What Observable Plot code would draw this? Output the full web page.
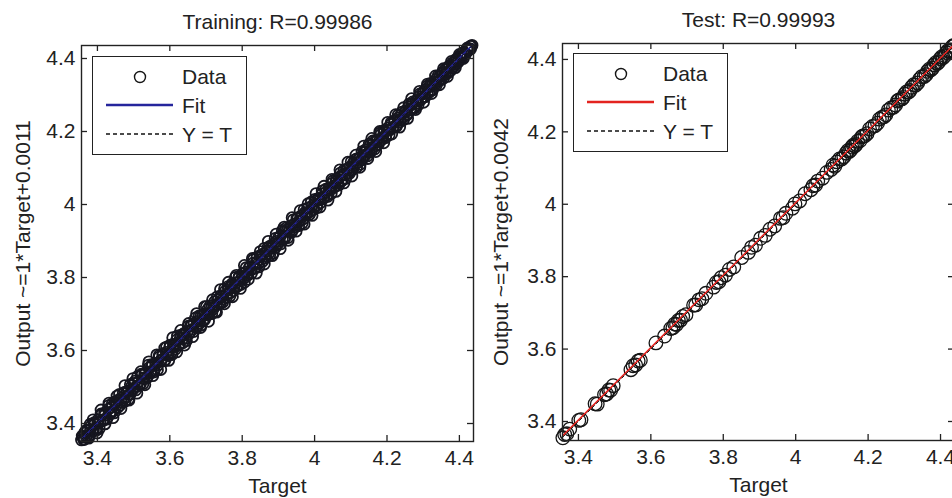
<!DOCTYPE html>
<html><head><meta charset="utf-8">
<script src="https://cdn.jsdelivr.net/npm/d3@7"></script>
<script src="https://cdn.jsdelivr.net/npm/@observablehq/plot@0.6"></script>
<style>
html,body{margin:0;padding:0;background:#fff;overflow:hidden;width:952px;height:498px}
#wrap{position:relative;width:952px;height:498px;overflow:hidden;font-family:'Liberation Sans',Arial,sans-serif;color:#222}
.panel{position:absolute;top:0}
.legend{position:absolute;background:#fff;border:1.4px solid #222;box-sizing:border-box}
.legend svg{display:block}
</style></head><body><div id="wrap"></div>
<script>
const trainTarget = [3.356,3.359,3.362,3.366,3.369,3.373,3.377,3.381,3.384,3.389,3.393,3.398,3.402,3.407,3.411,3.416,3.421,3.425,3.430,3.434,3.439,3.444,3.448,3.453,3.457,3.462,3.467,3.471,3.476,3.481,3.486,3.490,3.495,3.500,3.504,3.509,3.514,3.519,3.523,3.528,3.533,3.538,3.543,3.547,3.552,3.557,3.562,3.566,3.571,3.576,3.581,3.586,3.590,3.595,3.600,3.605,3.610,3.614,3.619,3.624,3.629,3.634,3.638,3.643,3.648,3.653,3.657,3.662,3.667,3.672,3.677,3.681,3.686,3.691,3.696,3.700,3.705,3.710,3.715,3.720,3.724,3.729,3.734,3.739,3.744,3.748,3.753,3.758,3.763,3.767,3.772,3.777,3.782,3.787,3.791,3.796,3.801,3.806,3.810,3.815,3.820,3.825,3.830,3.834,3.839,3.844,3.849,3.853,3.858,3.863,3.868,3.873,3.877,3.882,3.887,3.892,3.896,3.901,3.906,3.911,3.916,3.920,3.925,3.930,3.935,3.939,3.944,3.949,3.954,3.959,3.963,3.968,3.973,3.978,3.982,3.987,3.992,3.997,4.002,4.006,4.011,4.016,4.021,4.025,4.030,4.035,4.040,4.045,4.049,4.054,4.059,4.064,4.068,4.073,4.078,4.083,4.088,4.092,4.097,4.102,4.107,4.111,4.116,4.121,4.126,4.131,4.135,4.140,4.145,4.150,4.154,4.159,4.164,4.169,4.174,4.178,4.183,4.188,4.193,4.197,4.202,4.207,4.212,4.217,4.221,4.226,4.231,4.236,4.240,4.245,4.250,4.255,4.260,4.264,4.269,4.274,4.279,4.283,4.288,4.293,4.298,4.303,4.307,4.312,4.317,4.322,4.326,4.331,4.336,4.341,4.346,4.350,4.355,4.360,4.365,4.369,4.374,4.379,4.384,4.389,4.393,4.398,4.403,4.408,4.412,4.417,4.422,4.427,4.432,4.435];
const trainOutput = [3.355,3.363,3.356,3.375,3.365,3.380,3.368,3.384,3.395,3.382,3.398,3.388,3.410,3.404,3.423,3.408,3.423,3.414,3.439,3.429,3.445,3.435,3.459,3.451,3.464,3.450,3.470,3.465,3.486,3.473,3.490,3.480,3.503,3.496,3.516,3.502,3.515,3.508,3.532,3.525,3.539,3.529,3.553,3.542,3.559,3.547,3.565,3.559,3.582,3.574,3.589,3.574,3.595,3.589,3.609,3.596,3.612,3.609,3.629,3.616,3.635,3.631,3.646,3.633,3.652,3.646,3.668,3.658,3.674,3.663,3.680,3.675,3.695,3.680,3.701,3.698,3.713,3.702,3.717,3.714,3.734,3.725,3.740,3.729,3.748,3.741,3.762,3.755,3.770,3.758,3.783,3.772,3.785,3.776,3.799,3.794,3.811,3.799,3.815,3.806,3.826,3.821,3.839,3.826,3.841,3.838,3.860,3.850,3.865,3.853,3.872,3.866,3.886,3.880,3.893,3.883,3.899,3.895,3.914,3.907,3.926,3.912,3.930,3.927,3.942,3.930,3.946,3.943,3.963,3.955,3.969,3.960,3.977,3.976,3.990,3.980,3.995,3.992,4.009,3.998,4.016,4.013,4.029,4.019,4.032,4.027,4.046,4.041,4.058,4.047,4.062,4.059,4.075,4.064,4.082,4.081,4.096,4.086,4.102,4.094,4.113,4.108,4.125,4.116,4.128,4.123,4.142,4.136,4.150,4.143,4.162,4.156,4.170,4.161,4.177,4.172,4.192,4.184,4.198,4.190,4.209,4.204,4.220,4.211,4.225,4.218,4.237,4.232,4.247,4.239,4.253,4.248,4.268,4.261,4.275,4.266,4.283,4.278,4.295,4.287,4.303,4.296,4.315,4.309,4.323,4.314,4.330,4.326,4.343,4.337,4.351,4.343,4.361,4.357,4.371,4.363,4.378,4.374,4.389,4.385,4.397,4.393,4.407,4.405,4.417,4.413,4.426,4.425,4.434,4.436];
const trainTargetB = [3.358,3.364,3.370,3.375,3.380,3.386,3.391,3.396,3.401,3.405,3.410,3.415,3.420,3.426,3.431,3.436,3.441,3.446,3.451,3.456,3.461,3.466,3.471,3.476,3.481,3.486,3.491,3.496,3.501,3.506,3.511,3.516,3.521,3.526,3.531,3.536,3.541,3.546,3.551,3.556,3.561,3.566,3.571,3.576,3.581,3.586,3.591,3.596,3.601,3.606,3.611,3.616,3.621,3.626,3.631,3.636,3.641,3.646,3.651,3.656,3.661,3.666,3.671,3.676,3.681,3.686,3.691,3.696,3.701,3.706,3.711,3.716,3.721,3.726,3.731,3.736,3.741,3.746,3.751,3.756,3.761,3.766,3.771,3.776,3.781,3.786,3.791,3.796,3.801,3.806,3.811,3.816,3.821,3.826,3.831,3.836,3.841,3.846,3.851,3.856,3.861,3.866,3.871,3.876,3.881,3.886,3.891,3.896,3.901,3.906,3.911,3.916,3.921,3.926,3.931,3.936,3.941,3.946,3.951,3.956,3.961,3.966,3.971,3.976,3.981,3.986,3.991,3.996,4.001,4.006,4.011,4.016,4.021,4.026,4.031,4.036,4.041,4.046,4.051,4.056,4.061,4.066,4.071,4.076,4.081,4.086,4.091,4.096,4.101,4.106,4.111,4.116,4.121,4.126,4.131,4.136,4.141,4.146,4.151,4.156,4.161,4.166,4.171,4.176,4.181,4.186,4.191,4.196,4.201,4.206,4.211,4.216,4.221,4.226,4.231,4.236,4.241,4.246,4.251,4.256,4.261,4.266,4.271,4.276,4.281,4.286,4.291,4.296,4.301,4.306,4.311,4.316,4.321,4.326,4.331,4.336,4.341,4.346,4.351,4.356,4.361,4.366,4.371,4.376,4.381,4.386,4.391,4.396,4.401,4.406,4.411,4.416,4.421,4.426,4.431];
const trainOutputB = [3.366,3.357,3.382,3.363,3.398,3.378,3.402,3.381,3.404,3.386,3.426,3.410,3.429,3.412,3.449,3.426,3.455,3.429,3.457,3.444,3.480,3.458,3.482,3.461,3.484,3.467,3.507,3.491,3.510,3.492,3.529,3.506,3.535,3.509,3.537,3.524,3.560,3.538,3.562,3.541,3.564,3.547,3.587,3.571,3.590,3.572,3.609,3.586,3.615,3.589,3.617,3.604,3.640,3.618,3.642,3.621,3.644,3.627,3.667,3.651,3.670,3.652,3.689,3.666,3.695,3.669,3.697,3.684,3.720,3.698,3.722,3.701,3.724,3.707,3.747,3.731,3.750,3.732,3.769,3.746,3.775,3.749,3.777,3.764,3.800,3.778,3.802,3.781,3.804,3.787,3.827,3.811,3.830,3.812,3.849,3.826,3.855,3.829,3.857,3.844,3.880,3.858,3.882,3.861,3.884,3.867,3.907,3.891,3.910,3.892,3.929,3.906,3.935,3.909,3.937,3.924,3.958,3.938,3.962,3.942,3.964,3.949,3.986,3.971,3.990,3.973,4.007,3.986,4.014,3.991,4.017,4.005,4.037,4.018,4.042,4.022,4.044,4.030,4.065,4.051,4.070,4.053,4.086,4.066,4.094,4.071,4.097,4.085,4.117,4.098,4.122,4.102,4.124,4.110,4.145,4.131,4.150,4.133,4.166,4.146,4.174,4.152,4.177,4.165,4.196,4.178,4.202,4.183,4.204,4.191,4.224,4.211,4.230,4.214,4.245,4.227,4.253,4.233,4.257,4.246,4.275,4.259,4.281,4.264,4.284,4.273,4.303,4.291,4.309,4.295,4.324,4.307,4.332,4.314,4.336,4.327,4.352,4.340,4.359,4.346,4.371,4.359,4.379,4.367,4.388,4.379,4.398,4.390,4.407,4.400,4.416,4.411,4.425,4.423,4.433];
const trainTargetC = [3.365,3.376,3.388,3.399,3.410,3.421,3.432,3.443,3.454,3.465,3.476,3.487,3.498,3.509,3.520,3.531,3.542,3.553,3.564,3.575,3.586,3.597,3.608,3.619,3.630,3.641,3.652,3.663,3.674,3.685,3.696,3.707,3.718,3.729,3.740,3.751,3.762,3.773,3.784,3.795,3.806,3.817,3.828,3.839,3.850,3.861,3.872,3.883,3.894,3.905,3.916,3.927,3.938,3.949,3.960,3.971,3.982,3.993,4.004,4.015,4.026,4.037,4.048,4.059,4.070,4.081,4.092,4.103,4.114,4.125,4.136,4.147,4.158,4.169,4.180,4.191,4.202,4.213,4.224,4.235,4.246,4.257,4.268,4.279,4.290,4.301,4.312,4.323,4.334,4.345,4.356,4.367,4.378,4.389,4.400,4.411,4.422,4.431];
const trainOutputC = [3.375,3.360,3.410,3.374,3.437,3.399,3.456,3.416,3.475,3.441,3.504,3.464,3.523,3.483,3.542,3.506,3.569,3.531,3.588,3.548,3.607,3.573,3.635,3.596,3.655,3.615,3.674,3.638,3.701,3.663,3.720,3.680,3.739,3.705,3.767,3.728,3.787,3.747,3.806,3.770,3.833,3.795,3.852,3.812,3.871,3.837,3.899,3.860,3.919,3.879,3.938,3.902,3.964,3.927,3.983,3.946,4.002,3.970,4.030,3.993,4.050,4.012,4.069,4.036,4.095,4.059,4.116,4.078,4.135,4.102,4.160,4.126,4.181,4.145,4.200,4.169,4.225,4.193,4.246,4.212,4.265,4.236,4.290,4.260,4.310,4.280,4.330,4.304,4.352,4.328,4.372,4.351,4.392,4.375,4.411,4.400,4.429,4.426];
const testTarget = [3.357,3.362,3.368,3.376,3.401,3.407,3.446,3.452,3.472,3.478,3.484,3.489,3.496,3.545,3.551,3.558,3.565,3.571,3.614,3.638,3.655,3.661,3.666,3.671,3.676,3.682,3.688,3.697,3.718,3.724,3.733,3.741,3.752,3.773,3.781,3.788,3.794,3.806,3.817,3.829,3.851,3.869,3.878,3.889,3.903,3.916,3.929,3.942,3.958,3.965,3.973,3.991,3.998,4.011,4.026,4.042,4.048,4.055,4.061,4.074,4.086,4.098,4.114,4.127,4.139,4.148,4.155,4.163,4.171,4.178,4.186,4.197,4.212,4.226,4.238,4.249,4.263,4.276,4.285,4.293,4.301,4.312,4.320,4.331,4.342,4.355,4.364,4.373,4.382,4.391,4.399,4.407,4.416,4.424,4.432,4.438,4.103,4.108,4.121,4.133,4.144,4.152,4.159,4.167,4.182,4.191,4.204,4.219,4.231,4.244,4.256,4.270,4.281,4.297,4.306,4.316,4.326,4.337,4.348,4.360,4.369,4.378,4.387,4.395,4.403,4.412,4.420,4.428,4.435];
const testOutput = [3.355,3.364,3.366,3.379,3.403,3.405,3.449,3.448,3.474,3.476,3.487,3.486,3.499,3.543,3.554,3.556,3.567,3.569,3.617,3.636,3.657,3.659,3.669,3.668,3.679,3.680,3.690,3.695,3.721,3.722,3.736,3.739,3.754,3.771,3.784,3.786,3.797,3.804,3.820,3.827,3.853,3.867,3.881,3.887,3.906,3.914,3.931,3.940,3.961,3.963,3.975,3.989,4.001,4.009,4.029,4.040,4.051,4.053,4.064,4.072,4.088,4.096,4.117,4.125,4.141,4.146,4.158,4.161,4.174,4.176,4.189,4.195,4.215,4.224,4.240,4.247,4.266,4.274,4.288,4.291,4.304,4.310,4.323,4.329,4.345,4.353,4.367,4.371,4.385,4.389,4.402,4.405,4.419,4.422,4.435,4.437,4.108,4.105,4.125,4.131,4.148,4.150,4.163,4.165,4.186,4.189,4.208,4.217,4.235,4.242,4.260,4.268,4.285,4.295,4.310,4.314,4.330,4.335,4.352,4.358,4.373,4.376,4.391,4.393,4.407,4.410,4.424,4.426,4.438];
const trainFitTarget = [3.356, 4.435];
const trainFitOutput = [3.357, 4.436];
const testFitTarget = [3.357, 4.438];
const testFitOutput = [3.361, 4.442];
const identTarget = [3.356, 4.438];
const identOutput = [3.356, 4.438];
const xTicks = [3.4, 3.6, 3.8, 4.0, 4.2, 4.4];
const yTicks = [3.4, 3.6, 3.8, 4.0, 4.2, 4.4];
const titles = ["Training: R=0.99986", "Test: R=0.99993"];
const yLabels = ["Output ~=1*Target+0.0011", "Output ~=1*Target+0.0042"];
const xLabel = "Target";
const legendLabels = ["Data", "Fit", "Y = T"];
const fitColors = ["#25259c", "#e3231f"];

const FONT = "'Liberation Sans', Arial, sans-serif";
const FS = 21;
const INK = "#222";

function panel(o) {
  const H = 498;
  const innerH = H - o.mt - o.mb;
  const innerW = o.width - o.ml - o.mr;
  const pts = o.target.map((t, i) => ({t, v: o.output[i]}));
  const fit = o.fitT.map((t, i) => ({t, v: o.fitO[i]}));
  const ident = identTarget.map((t, i) => ({t, v: identOutput[i]}));
  const fmt = d => `${d}`;
  return Plot.plot({
    width: o.width, height: H,
    marginLeft: o.ml, marginRight: o.mr, marginTop: o.mt, marginBottom: o.mb,
    x: {domain: o.xd}, y: {domain: o.yd},
    style: {background: "transparent", fontFamily: FONT, color: INK, overflow: "visible"},
    marks: [
      Plot.dot(pts, {x: "t", y: "v", r: o.r, stroke: o.dotStroke, strokeWidth: o.dotW, fill: "none"}),
      Plot.line(fit, {x: "t", y: "v", stroke: o.color, strokeWidth: 1.6}),
      Plot.line(ident, {x: "t", y: "v", stroke: "#111", strokeWidth: 1, strokeDasharray: "3,3"}),
      Plot.frame({stroke: INK, strokeWidth: 1.4}),
      Plot.ruleX(xTicks, {x: d => d, insetTop: innerH - 6, stroke: INK, strokeWidth: 1.3}),
      Plot.ruleX(xTicks, {x: d => d, insetBottom: innerH - 6, stroke: INK, strokeWidth: 1.3}),
      Plot.ruleY(yTicks, {y: d => d, insetRight: innerW - 6, stroke: INK, strokeWidth: 1.3}),
      Plot.ruleY(yTicks, {y: d => d, insetLeft: innerW - 6, stroke: INK, strokeWidth: 1.3}),
      Plot.axisX(xTicks, {tickSize: 0, tickPadding: 9, fontSize: FS, tickFormat: fmt, label: null}),
      Plot.axisY(yTicks, {tickSize: 0, tickPadding: 6, fontSize: FS, tickFormat: fmt, label: null}),
      Plot.text([o.title], {frameAnchor: "top", dy: -23, fontSize: FS, textAnchor: "middle", lineAnchor: "middle", fill: INK}),
      Plot.text([xLabel], {frameAnchor: "bottom", dy: 45, fontSize: FS, textAnchor: "middle", lineAnchor: "middle", fill: INK}),
      Plot.text([o.ylabel], {frameAnchor: "left", dx: o.ylDx, rotate: -90, fontSize: FS, textAnchor: "middle", lineAnchor: "middle", fill: INK})
    ]
  });
}

function legend(left, top, color) {
  const d = document.createElement("div");
  d.className = "legend";
  Object.assign(d.style, {left: left + "px", top: top + "px", width: "155px", height: "99px"});
  d.innerHTML = `<svg width="153" height="97" style="font-family:${FONT};font-size:${FS}px;fill:${INK}">
    <circle cx="47" cy="20" r="5.5" fill="none" stroke="#151515" stroke-width="1.4"/>
    <text x="89" y="27">${legendLabels[0]}</text>
    <line x1="13" x2="80" y1="48" y2="48" stroke="${color}" stroke-width="2.4"/>
    <text x="89" y="56">${legendLabels[1]}</text>
    <line x1="13" x2="80" y1="77" y2="77" stroke="#111" stroke-width="1.3" stroke-dasharray="4,3"/>
    <text x="89" y="85">${legendLabels[2]}</text>
  </svg>`;
  return d;
}

const wrap = document.getElementById("wrap");
const p1 = panel({target: trainTarget.concat(trainTargetB, trainTargetC), output: trainOutput.concat(trainOutputB, trainOutputC),
  fitT: trainFitTarget, fitO: trainFitOutput,
  color: fitColors[0], title: titles[0], ylabel: yLabels[0], xd: [3.356, 4.439], yd: [3.3507, 4.4356],
  width: 476, ml: 81, mr: 3, mt: 45, mb: 57, r: 5.5, dotStroke: "#16161f", dotW: 1.8, ylDx: -58});
p1.classList.add("panel"); p1.style.left = "0px";
wrap.appendChild(p1);
const p2 = panel({target: testTarget, output: testOutput, fitT: testFitTarget, fitO: testFitOutput,
  color: fitColors[1], title: titles[1], ylabel: yLabels[1], xd: [3.356, 4.4386], yd: [3.3475, 4.444],
  width: 490, ml: 86, mr: 12, mt: 43, mb: 58, r: 6.8, dotStroke: "#151515", dotW: 1.3, ylDx: -61});
p2.classList.add("panel"); p2.style.left = "476px";
wrap.appendChild(p2);
wrap.appendChild(legend(92, 56, fitColors[0]));
wrap.appendChild(legend(573, 53, fitColors[1]));
</script></body></html>
